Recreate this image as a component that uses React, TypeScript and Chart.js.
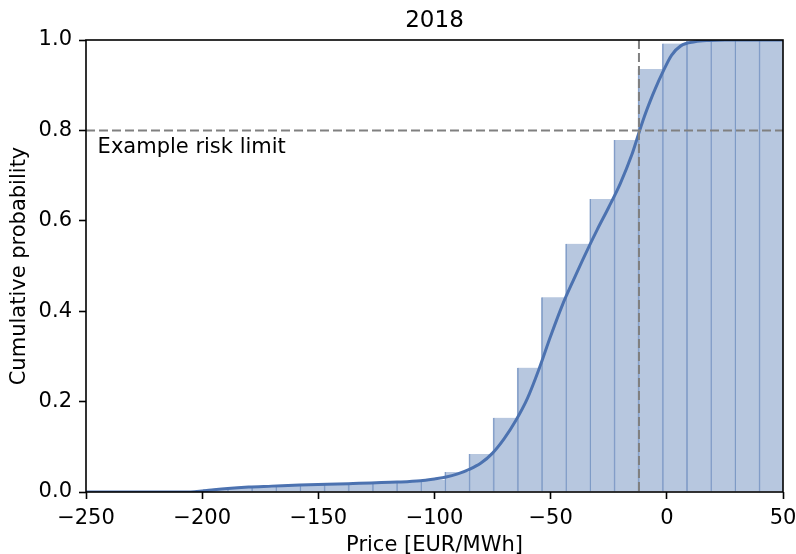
import React, { useEffect, useRef } from "react";
import { Chart, registerables } from "chart.js";

Chart.register(...registerables);

const TITLE = "2018";
const X_LABEL = "Price [EUR/MWh]";
const Y_LABEL = "Cumulative probability";

// Histogram bin edges (EUR/MWh) and cumulative share at each bin's right edge
const BIN_EDGES = [
  -199.6, -189.2, -178.8, -168.4, -158.0, -147.6, -137.2, -126.8, -116.4, -106.0,
  -95.6, -85.2, -74.8, -64.4, -54.0, -43.6, -33.2, -22.8, -12.4, -2.0,
  8.4, 18.8, 29.2, 39.6, 50.0,
];
const CUM_PROB = [
  0.006, 0.010, 0.0125, 0.014, 0.0155, 0.017, 0.0185, 0.020, 0.022, 0.0265,
  0.044, 0.084, 0.164, 0.275, 0.431, 0.549, 0.648, 0.779, 0.936, 0.992,
  0.998, 1.0, 1.0, 1.0,
];

// Smoothed cumulative distribution curve
const CDF_PRICE = [
  -250, -205, -200, -195, -189, -180, -170, -158, -137, -116, -106, -100, -95, -90,
  -85, -80, -75, -70, -65, -60, -55, -50, -45, -40, -35, -30, -25, -20, -15, -12,
  -10, -7, -5, -2, 2, 6, 12, 18, 25, 50,
];
const CDF_PROB = [
  0.0, 0.0, 0.002, 0.005, 0.008, 0.011, 0.013, 0.0155, 0.0184, 0.022, 0.025, 0.029,
  0.033, 0.040, 0.050, 0.064, 0.086, 0.118, 0.158, 0.207, 0.272, 0.345, 0.413, 0.471,
  0.527, 0.580, 0.630, 0.683, 0.747, 0.795, 0.826, 0.867, 0.892, 0.926, 0.966, 0.987,
  0.996, 0.999, 1.0, 1.0,
];

const RISK_LIMIT = 0.8;
const RISK_PRICE = -12;
const RISK_TEXT = "Example risk limit";
const RISK_TEXT_X = -245;
const RISK_TEXT_Y = 0.75;

const X_MIN = -250;
const X_MAX = 50;
const X_STEP = 50;
const Y_MIN = 0;
const Y_MAX = 1;
const Y_STEP = 0.2;

const FONT = '"DejaVu Sans", sans-serif';
const BLUE = "rgb(76,114,176)";

const overlayPlugin = {
  id: "overlay",
  afterDatasetsDraw(chart: any) {
    const { ctx, chartArea: a, scales } = chart;
    const x = scales.x;
    const y = scales.y;
    ctx.save();
    ctx.beginPath();
    ctx.rect(a.left, a.top, a.right - a.left, a.bottom - a.top);
    ctx.clip();
    ctx.strokeStyle = "#808080";
    ctx.lineWidth = 2;
    ctx.setLineDash([9, 4]);
    const yy = y.getPixelForValue(RISK_LIMIT);
    ctx.beginPath();
    ctx.moveTo(a.left, yy);
    ctx.lineTo(a.right, yy);
    ctx.stroke();
    const xx = x.getPixelForValue(RISK_PRICE);
    ctx.beginPath();
    ctx.moveTo(xx, a.top);
    ctx.lineTo(xx, a.bottom);
    ctx.stroke();
    ctx.restore();

    ctx.save();
    ctx.font = `21px ${FONT}`;
    ctx.fillStyle = "#000";
    ctx.textAlign = "left";
    ctx.textBaseline = "alphabetic";
    ctx.fillText(RISK_TEXT, x.getPixelForValue(RISK_TEXT_X), y.getPixelForValue(RISK_TEXT_Y));
    ctx.restore();
  },
  afterDraw(chart: any) {
    const { ctx, chartArea: a } = chart;
    ctx.save();
    ctx.strokeStyle = "#000";
    ctx.lineWidth = 1.6;
    ctx.strokeRect(a.left, a.top, a.right - a.left, a.bottom - a.top);
    ctx.restore();
  },
};

export default function App() {
  const canvasRef = useRef<HTMLCanvasElement | null>(null);

  useEffect(() => {
    const canvas = canvasRef.current;
    if (!canvas) return;

    const barData = CUM_PROB.map((p, i) => ({
      x: (BIN_EDGES[i] + BIN_EDGES[i + 1]) / 2,
      y: p,
    }));
    const lineData = CDF_PRICE.map((v, i) => ({ x: v, y: CDF_PROB[i] }));

    const chart = new Chart(canvas, {
      type: "bar",
      data: {
        datasets: [
          {
            type: "line",
            data: lineData,
            borderColor: BLUE,
            borderWidth: 3,
            pointRadius: 0,
            cubicInterpolationMode: "monotone",
            fill: false,
            order: 1,
          } as any,
          {
            type: "bar",
            data: barData,
            backgroundColor: "rgba(76,114,176,0.4)",
            borderColor: "rgba(76,114,176,0.62)",
            borderWidth: { left: 1, right: 0, top: 0, bottom: 0 },
            borderSkipped: false,
            barPercentage: 1,
            categoryPercentage: 1,
            grouped: false,
            order: 2,
          } as any,
        ],
      },
      plugins: [overlayPlugin],
      options: {
        responsive: false,
        animation: false,
        devicePixelRatio: 1,
        layout: { padding: { top: 0, right: 13, left: 0, bottom: 0 } },
        plugins: {
          legend: { display: false },
          tooltip: { enabled: false },
          title: {
            display: true,
            text: TITLE,
            fullSize: false,
            color: "#000",
            font: { family: FONT, size: 23, weight: "normal", lineHeight: 1.2 },
            padding: { top: 7, bottom: 5.4 },
          },
        },
        scales: {
          x: {
            type: "linear",
            min: X_MIN,
            max: X_MAX,
            offset: false,
            border: { display: false },
            grid: {
              offset: false,
              drawOnChartArea: false,
              drawTicks: true,
              tickLength: 7,
              tickWidth: 1.6,
              tickColor: "#000",
              color: "#000",
            },
            ticks: {
              stepSize: X_STEP,
              autoSkip: false,
              maxRotation: 0,
              color: "#000",
              padding: 9,
              font: { family: FONT, size: 21, lineHeight: 1 },
              callback: (v: any) => String(v).replace("-", "\u2212"),
            },
            title: {
              display: true,
              text: X_LABEL,
              color: "#000",
              font: { family: FONT, size: 21, lineHeight: 0.8 },
              padding: { top: 0, bottom: 0 },
            },
            afterFit: (s: any) => {
              s.height = 62;
              s.paddingLeft = 0;
              s.paddingRight = 0;
            },
          },
          y: {
            type: "linear",
            min: Y_MIN,
            max: Y_MAX,
            border: { display: false },
            grid: {
              offset: false,
              drawOnChartArea: false,
              drawTicks: true,
              tickLength: 7,
              tickWidth: 1.6,
              tickColor: "#000",
              color: "#000",
            },
            ticks: {
              stepSize: Y_STEP,
              color: "#000",
              padding: 7,
              font: { family: FONT, size: 21, lineHeight: 1 },
              callback: (v: any) => Number(v).toFixed(1),
            },
            title: {
              display: true,
              text: Y_LABEL,
              color: "#000",
              font: { family: FONT, size: 21, lineHeight: 1 },
              padding: { top: 9.5, bottom: 0 },
            },
            afterFit: (s: any) => {
              s.width = 86;
              s.paddingTop = 0;
              s.paddingBottom = 0;
            },
          },
        },
      },
    } as any);

    return () => chart.destroy();
  }, []);

  return (
    <div style={{ position: "absolute", left: 0, top: 0, width: 796, height: 554, background: "#fff" }}>
      <canvas ref={canvasRef} width={796} height={554} style={{ display: "block" }} />
    </div>
  );
}
